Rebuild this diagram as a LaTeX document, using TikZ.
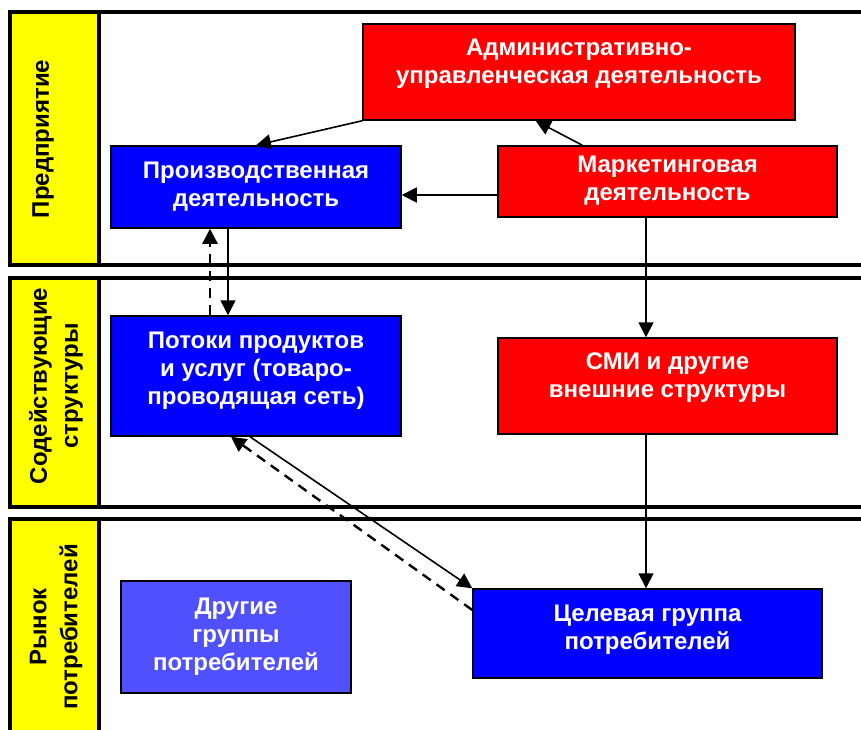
\documentclass[tikz,border=0pt]{standalone}
\usepackage{fontspec}
\setmainfont{Liberation Sans}
\usetikzlibrary{arrows.meta,calc}
\definecolor{cred}{HTML}{FF0000}
\definecolor{cblue}{HTML}{0000FF}
\definecolor{clblue}{HTML}{5050FF}
\definecolor{cyel}{HTML}{FFFF00}
\tikzset{
  box/.style={draw=black, line width=1.5pt, inner sep=0pt},
  boxtext/.style={text=white, align=center, font=\fontsize{24}{28}\selectfont\bfseries, inner sep=0pt},
  redbox/.style={box, fill=cred},
  bluebox/.style={box, fill=cblue},
  lbluebox/.style={box, fill=clblue},
  lanelabel/.style={rotate=90, align=center, font=\fontsize{24}{31}\selectfont\bfseries},
  laneline/.style={line width=4pt},
  yelbox/.style={fill=cyel, draw=black, line width=4pt},
  arr/.style={line width=1.6pt, -{Triangle[length=15pt,width=15pt]}},
  darr/.style={arr, dash pattern=on 10pt off 7pt, line width=2.4pt},
}
\begin{document}
\begin{tikzpicture}[x=1pt,y=-1pt]
\useasboundingbox (0,0) rectangle (861,729);
% lanes
\draw[laneline] (10,12) -- (861,12);
\draw[laneline] (10,265) -- (861,265);
\draw[laneline] (10,278) -- (861,278);
\draw[laneline] (10,507) -- (861,507);
\draw[laneline] (10,519) -- (861,519);
\draw[yelbox] (10,12) rectangle (99,265);
\draw[yelbox] (10,278) rectangle (99,507);
\draw[yelbox] (10,519) rectangle (99,745);
\node[lanelabel] (l1) at (43,139) {Предприятие};
\node[lanelabel] (l2) at (56,386) {Содействующие\\структуры};
\node[lanelabel] (l3) at (56,627) {Рынок\\потребителей};
% boxes
\node[redbox, minimum width=432pt, minimum height=96pt] (adm) at (579,72) {};
\node[boxtext] (admt) at ([yshift=8pt]adm.center) {Административно-\\управленческая деятельность};
\node[bluebox, minimum width=290pt, minimum height=82pt] (prod) at (256,187) {};
\node[boxtext] (prodt) at (prod.center) {Производственная\\деятельность};
\node[redbox, minimum width=339pt, minimum height=71pt] (mark) at (667.5,181.5) {};
\node[boxtext] (markt) at ([yshift=1pt]mark.center) {Маркетинговая\\деятельность};
\node[bluebox, minimum width=290pt, minimum height=120pt] (flow) at (256,376) {};
\node[boxtext] (flowt) at ([yshift=5pt]flow.center) {Потоки продуктов\\и услуг (товаро-\\проводящая сеть)};
\node[redbox, minimum width=339pt, minimum height=96pt] (smi) at (667.5,386) {};
\node[boxtext] (smit) at ([yshift=8pt]smi.center) {СМИ и другие\\внешние структуры};
\node[lbluebox, minimum width=230pt, minimum height=112pt] (other) at (236,637) {};
\node[boxtext] (othert) at (other.center) {Другие\\группы\\потребителей};
\node[bluebox, minimum width=349pt, minimum height=89pt] (target) at (647.5,633.5) {};
\node[boxtext] (targett) at ([yshift=4pt]target.center) {Целевая группа\\потребителей};
% arrows
\draw[arr] (adm.south west) -- (prod.north);
\draw[arr] ($(mark.north west)!0.25!(mark.north east)$) -- ($(adm.south west)!0.4!(adm.south east)$);
\draw[arr] (mark.west |- 0,195) -- (prod.east |- 0,195);
\draw[arr] (prod.south -| 228,0) -- (flow.north -| 228,0);
\draw[darr] (flow.north -| 210,0) -- (prod.south -| 210,0);
\draw[arr] (mark.south -| 646,0) -- (smi.north -| 646,0);
\draw[arr] (smi.south -| 646,0) -- (target.north west -| 646,0);
\draw[arr] (flow.south -| 250,0) -- (target.north west);
\draw[darr] (target.west |- 0,610) -- (flow.south -| 231,0);
\end{tikzpicture}
\end{document}
